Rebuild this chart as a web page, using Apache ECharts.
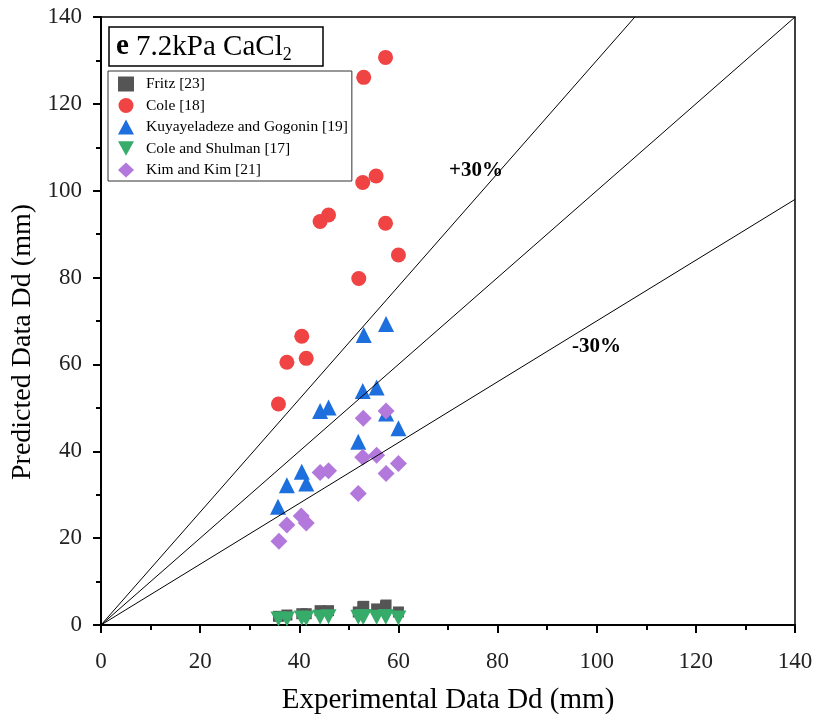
<!DOCTYPE html>
<html>
  <head>
    <meta charset="utf-8" />
    <title>7.2kPa CaCl2</title>
    <script src="https://cdn.jsdelivr.net/npm/echarts@6/dist/echarts.min.js"></script>
    <style>
      html, body { margin: 0; padding: 0; background: #fff; }
      #chart { width: 816px; height: 722px; }
    </style>
  </head>
  <body>
    <div id="chart"></div>
    <script>
      // 实验值 x / 预测值 y
      const fritz = [
        [35.8, 2.0], [37.5, 2.3], [40.5, 2.6], [41.4, 2.6], [44.2, 3.3], [45.9, 3.3],
        [51.9, 3.0], [52.8, 4.2], [53.0, 4.3], [55.6, 3.7], [57.4, 4.4], [57.5, 4.6], [60.0, 3.0]
      ]
      const cole = [
        [35.8, 50.9], [37.5, 60.5], [40.5, 66.5], [41.4, 61.4], [44.2, 92.9], [45.9, 94.4],
        [52.0, 79.8], [52.8, 101.9], [53.0, 126.1], [55.5, 103.4], [57.4, 92.5], [57.4, 130.7], [60.0, 85.2]
      ]
      const kuyay = [
        [35.7, 27.2], [37.5, 32.2], [40.5, 35.3], [41.4, 32.6], [44.2, 49.3], [45.9, 50.1],
        [51.9, 42.2], [52.8, 53.9], [53.0, 66.8], [55.6, 54.7], [57.5, 48.7], [57.5, 69.3], [60.0, 45.3]
      ]
      const coleShulman = [
        [35.8, 1.4], [37.5, 1.4], [40.5, 1.6], [41.4, 1.5], [44.2, 1.8], [45.9, 1.9],
        [51.9, 1.8], [52.8, 1.9], [53.0, 1.9], [55.6, 1.8], [57.4, 1.9], [57.5, 1.9], [60.0, 1.6]
      ]
      const kim = [
        [35.9, 19.3], [37.5, 23.0], [40.4, 25.1], [41.4, 23.5], [44.2, 35.1], [45.9, 35.5],
        [51.9, 30.3], [52.8, 38.6], [52.9, 47.6], [55.6, 39.1], [57.5, 34.9], [57.5, 49.3], [60.0, 37.2]
      ]
      // 参考线 1:1, +30%, -30%
      const lineEqual = [[0, 0], [140, 140]]
      const linePlus30 = [[0, 0], [107.7, 140]]
      const lineMinus30 = [[0, 0], [140, 98]]

      const serif = "Liberation Serif"
      const downTriangle = "path://M0,0 L10,0 L5,9 Z"
      const myChart = echarts.init(document.getElementById("chart"))

      const refLine = (data) => ({
        type: "line",
        data: data,
        symbol: "none",
        silent: true,
        z: 5,
        lineStyle: { color: "#000", width: 1 }
      })

      const axisCommon = {
        type: "value",
        min: 0,
        max: 140,
        interval: 20,
        nameLocation: "middle",
        axisLine: { lineStyle: { color: "#000", width: 2 } },
        axisTick: { inside: false, length: 8, lineStyle: { color: "#000", width: 2 } },
        minorTick: { show: true, splitNumber: 2, length: 5, lineStyle: { color: "#000", width: 2 } },
        splitLine: { show: false }
      }

      const option = {
        animation: false,
        textStyle: { fontFamily: serif },
        grid: {
          left: 101,
          right: 21,
          top: 17,
          bottom: 97,
          outerBoundsMode: "none",
          show: true,
          borderColor: "#000",
          borderWidth: 1.5
        },
        title: {
          text: "{b|e} 7.2kPa CaCl{s|2}",
          left: 109,
          top: 26,
          padding: [4, 32, 2, 7],
          borderColor: "#000",
          borderWidth: 1.5,
          textStyle: {
            fontFamily: serif,
            fontSize: 29,
            fontWeight: "normal",
            color: "#000",
            rich: {
              b: { fontFamily: serif, fontSize: 29, fontWeight: "bold", color: "#000", lineHeight: 34 },
              s: { fontFamily: serif, fontSize: 18, color: "#000", lineHeight: 34, verticalAlign: "bottom", padding: [15, 0, 0, 0] }
            }
          }
        },
        legend: {
          orient: "vertical",
          left: 108,
          top: 71,
          padding: [5, 4, 3, 10],
          itemGap: 5.5,
          itemWidth: 16,
          itemHeight: 15,
          borderColor: "#333",
          borderWidth: 1,
          textStyle: { fontFamily: serif, fontSize: 15.5, color: "#000", padding: [0, 0, 0, 7] },
          data: ["Fritz [23]", "Cole [18]", "Kuyayeladeze and Gogonin [19]", "Cole and Shulman [17]", "Kim and Kim [21]"]
        },
        xAxis: Object.assign({}, axisCommon, {
          name: "Experimental Data Dd (mm)",
          nameGap: 61,
          nameTextStyle: { fontFamily: serif, fontSize: 29, color: "#000" },
          axisLabel: { fontFamily: serif, fontSize: 23, color: "#222", margin: 25 }
        }),
        yAxis: Object.assign({}, axisCommon, {
          name: "Predicted Data Dd (mm)",
          nameGap: 59,
          nameTextStyle: { fontFamily: serif, fontSize: 28, color: "#000", padding: [0, 42, 0, 0] },
          axisLabel: { fontFamily: serif, fontSize: 23, color: "#222", margin: 19 }
        }),
        graphic: [
          { type: "text", x: 449, y: 171, style: { text: "+30%", font: "bold 21px 'Liberation Serif'", fill: "#000", verticalAlign: "middle" } },
          { type: "text", x: 572, y: 347, style: { text: "-30%", font: "bold 21px 'Liberation Serif'", fill: "#000", verticalAlign: "middle" } }
        ],
        series: [
          { name: "Fritz [23]", type: "scatter", data: fritz, symbol: "rect", symbolSize: 11, itemStyle: { color: "#555555", opacity: 1 } },
          { name: "Cole [18]", type: "scatter", data: cole, symbol: "circle", symbolSize: 15, itemStyle: { color: "#f04343", opacity: 1 } },
          { name: "Kuyayeladeze and Gogonin [19]", type: "scatter", data: kuyay, symbol: "triangle", symbolSize: 16, itemStyle: { color: "#1c6fdc", opacity: 1 } },
          { name: "Cole and Shulman [17]", type: "scatter", data: coleShulman, symbol: downTriangle, symbolSize: [16, 15], itemStyle: { color: "#36ab6a", opacity: 1 } },
          { name: "Kim and Kim [21]", type: "scatter", data: kim, symbol: "diamond", symbolSize: 17, itemStyle: { color: "#b378dc", opacity: 1 } },
          refLine(lineEqual),
          refLine(linePlus30),
          refLine(lineMinus30)
        ]
      }

      myChart.setOption(option)
    </script>
  </body>
</html>
